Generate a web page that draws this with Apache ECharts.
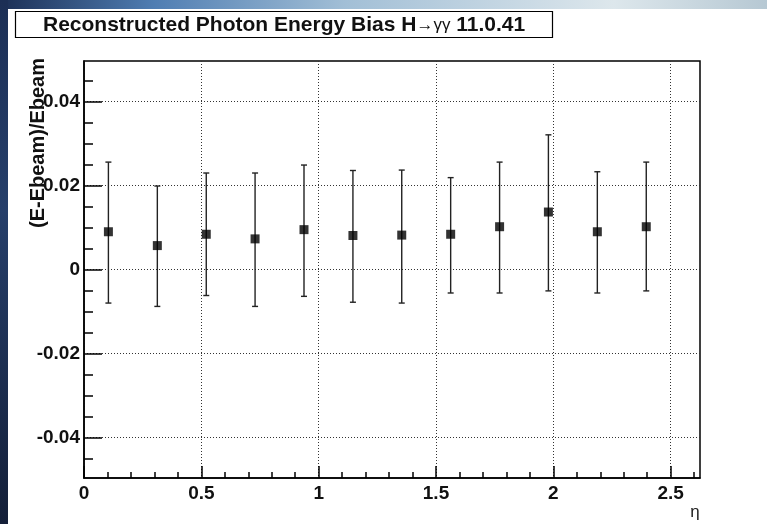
<!DOCTYPE html>
<html>
<head>
<meta charset="utf-8">
<title>Reconstructed Photon Energy Bias</title>
<script src="https://cdn.jsdelivr.net/npm/echarts@6/dist/echarts.min.js"></script>
<style>
  html, body { margin: 0; padding: 0; background: #fff; }
  #chart { width: 767px; height: 524px; }
</style>
</head>
<body>
<div id="chart"></div>
<script>
// eta bin centres
var etaBins = [0.104, 0.3125, 0.521, 0.729, 0.9375, 1.146, 1.354, 1.5625, 1.771, 1.979, 2.1875, 2.396];
// (E-Ebeam)/Ebeam per bin
var biasValues = [0.0090, 0.0057, 0.0084, 0.0073, 0.0095, 0.0081, 0.0082, 0.0084, 0.0102, 0.0137, 0.0090, 0.0102];
// upper / lower end of the error bars
var errHigh = [0.0256, 0.0199, 0.0230, 0.0230, 0.0249, 0.0236, 0.0237, 0.0219, 0.0256, 0.0321, 0.0233, 0.0256];
var errLow = [-0.0080, -0.0088, -0.0062, -0.0088, -0.0064, -0.0078, -0.0080, -0.0056, -0.0056, -0.0051, -0.0056, -0.0051];
// axis ranges and ticks
var xRange = [0, 2.625];
var yRange = [-0.0497, 0.0497];
var xMajorTicks = [0, 0.5, 1, 1.5, 2, 2.5];
var xMinorTicks = [0.1, 0.2, 0.3, 0.4, 0.6, 0.7, 0.8, 0.9, 1.1, 1.2, 1.3, 1.4, 1.6, 1.7, 1.8, 1.9, 2.1, 2.2, 2.3, 2.4, 2.6];
var yMajorTicks = [-0.04, -0.02, 0, 0.02, 0.04];
var yMinorTicks = [-0.045, -0.035, -0.03, -0.025, -0.015, -0.01, -0.005, 0.005, 0.01, 0.015, 0.025, 0.03, 0.035, 0.045];

var FONT = '"Liberation Sans", Arial, sans-serif';

var chart = echarts.init(document.getElementById('chart'));

var pointData = etaBins.map(function (e, i) { return [e, biasValues[i]]; });
var barData = etaBins.map(function (e, i) { return [e, errLow[i], errHigh[i]]; });

var tickStyle = { color: '#000', width: 1.5 };
var gridLine = { show: true, lineStyle: { color: '#333', width: 1, type: [1, 2] } };

var option = {
  animation: false,
  backgroundColor: '#fff',
  title: {
    left: 15,
    top: 10,
    padding: [3, 28, 2, 28],
    backgroundColor: '#fff',
    borderColor: '#000',
    borderWidth: 1.2,
    text: '{b|Reconstructed Photon Energy Bias H}{s|→γγ}{b| 11.0.41}',
    textStyle: {
      rich: {
        b: { fontFamily: FONT, fontWeight: 'bold', fontSize: 21, color: '#111', lineHeight: 24 },
        s: { fontFamily: FONT, fontWeight: 'normal', fontSize: 17, color: '#111', lineHeight: 24 }
      }
    }
  },
  graphic: [
    { // slide background stripes
      type: 'rect', left: 0, top: 0, z: -10,
      shape: { width: 767, height: 9 },
      style: {
        fill: new echarts.graphic.LinearGradient(0, 0, 1, 0, [
          { offset: 0, color: '#1c2f55' },
          { offset: 0.2, color: '#4f7db2' },
          { offset: 0.45, color: '#a2bfd6' },
          { offset: 0.8, color: '#dde7ec' },
          { offset: 1, color: '#b6c8d3' }
        ])
      }
    },
    {
      type: 'rect', left: 0, top: 0, z: -10,
      shape: { width: 8, height: 524 },
      style: {
        fill: new echarts.graphic.LinearGradient(0, 0, 0, 1, [
          { offset: 0, color: '#1c2f55' },
          { offset: 0.4, color: '#263f6a' },
          { offset: 1, color: '#141f38' }
        ])
      }
    },
    { // y axis title
      type: 'text',
      x: 38, y: 143,
      rotation: Math.PI / 2,
      style: {
        text: '(E-Ebeam)/Ebeam',
        fontFamily: FONT, fontWeight: 'bold', fontSize: 20, fill: '#111',
        textAlign: 'center', textVerticalAlign: 'middle'
      }
    },
    { // x axis title
      type: 'text',
      x: 695, y: 512,
      style: {
        text: 'η',
        fontFamily: FONT, fontSize: 17, fill: '#222',
        textAlign: 'center', textVerticalAlign: 'middle'
      }
    }
  ],
  grid: {
    left: 84, top: 61, width: 616, height: 417,
    show: true, borderColor: '#000', borderWidth: 1.5, backgroundColor: '#fff'
  },
  xAxis: [
    {
      type: 'value', min: xRange[0], max: xRange[1], position: 'bottom',
      axisLine: { show: true, onZero: false, lineStyle: tickStyle },
      axisTick: { show: true, inside: true, length: 12, lineStyle: tickStyle, customValues: xMajorTicks },
      axisLabel: {
        margin: 6, fontFamily: FONT, fontWeight: 'bold', fontSize: 19, color: '#111',
        customValues: xMajorTicks,
        formatter: function (v) { return String(Math.round(v * 100) / 100); }
      },
      splitLine: gridLine
    },
    {
      type: 'value', min: xRange[0], max: xRange[1], position: 'bottom',
      axisLine: { show: false, onZero: false },
      axisTick: { show: true, inside: true, length: 6, lineStyle: tickStyle, customValues: xMinorTicks },
      axisLabel: { show: false },
      splitLine: { show: false }
    }
  ],
  yAxis: [
    {
      type: 'value', min: yRange[0], max: yRange[1], position: 'left',
      axisLine: { show: true, onZero: false, lineStyle: tickStyle },
      axisTick: { show: true, inside: true, length: 18, lineStyle: tickStyle, customValues: yMajorTicks },
      axisLabel: {
        margin: 4, fontFamily: FONT, fontWeight: 'bold', fontSize: 19, color: '#111',
        customValues: yMajorTicks,
        formatter: function (v) { return String(Math.round(v * 1000) / 1000); }
      },
      splitLine: gridLine
    },
    {
      type: 'value', min: yRange[0], max: yRange[1], position: 'left',
      axisLine: { show: false, onZero: false },
      axisTick: { show: true, inside: true, length: 9, lineStyle: tickStyle, customValues: yMinorTicks },
      axisLabel: { show: false },
      splitLine: { show: false }
    }
  ],
  series: [
    {
      type: 'custom',
      name: 'error',
      data: barData,
      encode: { x: 0, y: [1, 2] },
      renderItem: function (params, api) {
        var lo = api.coord([api.value(0), api.value(1)]);
        var hi = api.coord([api.value(0), api.value(2)]);
        var cap = 3;
        var st = { stroke: '#222', lineWidth: 1.4 };
        return {
          type: 'group',
          children: [
            { type: 'line', shape: { x1: lo[0], y1: lo[1], x2: hi[0], y2: hi[1] }, style: st },
            { type: 'line', shape: { x1: lo[0] - cap, y1: lo[1], x2: lo[0] + cap, y2: lo[1] }, style: st },
            { type: 'line', shape: { x1: hi[0] - cap, y1: hi[1], x2: hi[0] + cap, y2: hi[1] }, style: st }
          ]
        };
      },
      z: 3
    },
    {
      type: 'scatter',
      name: 'bias',
      data: pointData,
      symbol: 'rect',
      symbolSize: 9,
      itemStyle: { color: '#000' },
      z: 4
    }
  ]
};

chart.setOption(option);
</script>
</body>
</html>
